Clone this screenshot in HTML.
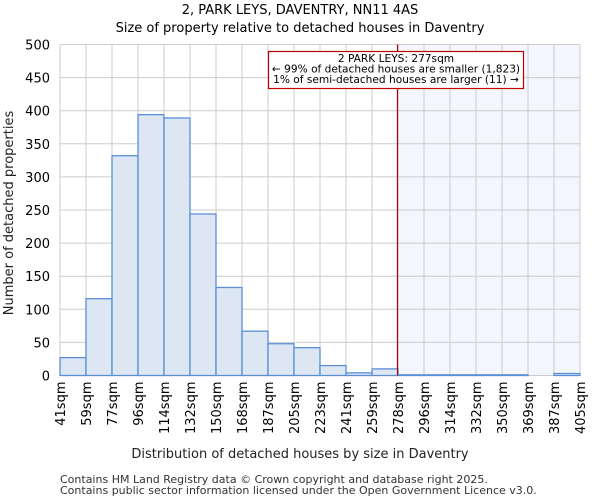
<!DOCTYPE html>
<html><head><meta charset="utf-8"><style>
body{margin:0;background:#fff;font-family:"DejaVu Sans","Liberation Sans",sans-serif;}
svg text{font-family:"DejaVu Sans","Liberation Sans",sans-serif;}
</style></head><body>
<svg id="c" width="600" height="500" xmlns="http://www.w3.org/2000/svg">
<text x="300" y="14" text-anchor="middle" font-size="13">2, PARK LEYS, DAVENTRY, NN11 4AS</text>
<text x="300" y="32" text-anchor="middle" font-size="13">Size of property relative to detached houses in Daventry</text>
<g id="plot"></g>
<text x="300" y="458" text-anchor="middle" font-size="13" fill="#222">Distribution of detached houses by size in Daventry</text>
<text transform="translate(13,213) rotate(-90)" text-anchor="middle" font-size="13" fill="#222">Number of detached properties</text>
<text x="60" y="483" font-size="11" fill="#333">Contains HM Land Registry data © Crown copyright and database right 2025.</text>
<text x="60" y="494" font-size="11" fill="#333">Contains public sector information licensed under the Open Government Licence v3.0.</text>
</svg>
<script>
const binLabels=["41sqm","59sqm","77sqm","96sqm","114sqm","132sqm","150sqm","168sqm","187sqm","205sqm","223sqm","241sqm","259sqm","278sqm","296sqm","314sqm","332sqm","350sqm","369sqm","387sqm","405sqm"];
const counts=[27,116,332,394,389,244,133,67,48,42,15,4,10,1,1,1,1,1,0,3];
const yTicks=[0,50,100,150,200,250,300,350,400,450,500];
const markerBin=13;
const L=60,R=580,T=44.5,B=375.5,yMax=500;
const bw=(R-L)/counts.length;
const x=i=>L+i*bw;
const y=v=>B-(v/yMax)*(B-T);
const g=document.getElementById('plot');
const NS='http://www.w3.org/2000/svg';
function mk(t,a){const e=document.createElementNS(NS,t);for(const k in a)e.setAttribute(k,a[k]);g.appendChild(e);return e;}
let e=mk('rect',{x:x(markerBin),y:T,width:R-x(markerBin),height:B-T,fill:'#f3f6fd'});


yTicks.forEach(v=>{
 let l=mk('line',{x1:L,x2:R,y1:y(v),y2:y(v),stroke:'#ccc','stroke-width':1});
 
 
 let t=mk('text',{x:L-10,y:y(v)+5,'text-anchor':'end','font-size':13});
 t.textContent=v;
 
 
});
binLabels.forEach((s,i)=>{
 let l=mk('line',{x1:x(i),x2:x(i),y1:T,y2:B,stroke:'#ccc','stroke-width':1});
 
 
 let t=mk('text',{transform:`translate(${x(i)+5},${B+6}) rotate(-90)`,'text-anchor':'end','font-size':13});
 t.textContent=s;
 
 
});
counts.forEach((v,i)=>{
 if(v<=0)return;
 let r=mk('rect',{x:x(i),y:y(v),width:bw,height:B-y(v),fill:'#dde7f4',stroke:'#5a8fd6','stroke-width':1.3});
 
 
});
e=mk('line',{x1:x(markerBin)-0.5,x2:x(markerBin)-0.5,y1:T,y2:B,stroke:'#b00000','stroke-width':1.2});


e=mk('rect',{x:268.5,y:51.5,width:255,height:37,fill:'#fff',stroke:'#c00000','stroke-width':1.2});


["2 PARK LEYS: 277sqm","← 99% of detached houses are smaller (1,823)","1% of semi-detached houses are larger (11) →"].forEach((s,i)=>{
 let t=mk('text',{x:396,y:62+i*10.5,'text-anchor':'middle','font-size':10.6});
 t.textContent=s;
 
 
});
</script>
</body></html>
